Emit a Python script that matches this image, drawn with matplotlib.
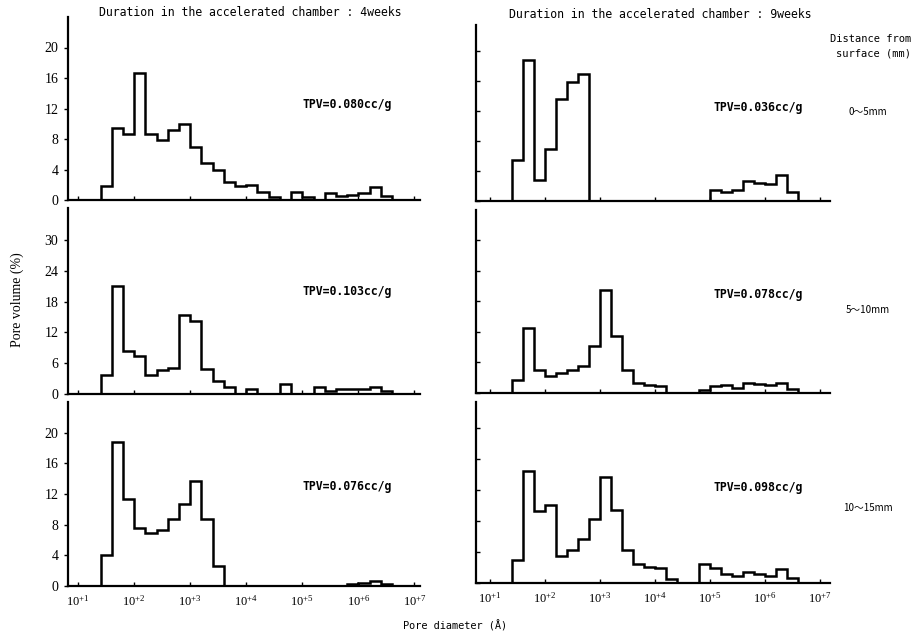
import numpy as np
import matplotlib
matplotlib.use("Agg")
import matplotlib.pyplot as plt

# Bin edges (log10 of pore diameter, Å): 0.2-decade bins from 10^1.4 to 10^6.6
edge_logs = [1.4, 1.6, 1.8, 2.0, 2.2, 2.4, 2.6, 2.8, 3.0, 3.2, 3.4, 3.6, 3.8,
             4.0, 4.2, 4.4, 4.6, 4.8, 5.0, 5.2, 5.4, 5.6, 5.8, 6.0, 6.2, 6.4, 6.6]

# Pore volume (%) per bin
w4_0_5 = [1.8, 9.5, 8.7, 16.7, 8.7, 7.9, 9.2, 10.0, 7.0, 4.8, 4.0, 2.4, 1.8,
          2.0, 1.05, 0.35, 0.0, 1.0, 0.35, 0.0, 0.9, 0.5, 0.7, 0.9, 1.7, 0.5]
w4_5_10 = [3.7, 21.0, 8.4, 7.4, 3.7, 4.7, 5.1, 15.3, 14.3, 4.8, 2.5, 1.3, 0.0,
           1.0, 0.0, 0.0, 1.9, 0.0, 0.0, 1.4, 0.65, 1.0, 1.0, 1.0, 1.3, 0.6]
w4_10_15 = [4.0, 18.8, 11.4, 7.6, 6.9, 7.3, 8.7, 10.7, 13.7, 8.7, 2.6, 0.0, 0.0,
            0.0, 0.0, 0.0, 0.0, 0.0, 0.0, 0.0, 0.0, 0.0, 0.2, 0.4, 0.6, 0.2]
w9_0_5 = [5.5, 18.8, 2.8, 6.9, 13.6, 15.8, 16.9, 0.0, 0.0, 0.0, 0.0, 0.0, 0.0,
          0.0, 0.0, 0.0, 0.0, 0.0, 1.5, 1.2, 1.4, 2.65, 2.4, 2.25, 3.4, 1.15]
w9_5_10 = [2.6, 12.8, 4.6, 3.3, 3.9, 4.6, 5.3, 9.2, 20.3, 11.1, 4.6, 2.0, 1.6,
           1.4, 0.0, 0.0, 0.0, 0.65, 1.4, 1.6, 1.0, 2.0, 1.8, 1.5, 2.0, 0.85]
w9_10_15 = [3.0, 14.4, 9.3, 10.1, 3.5, 4.3, 5.7, 8.2, 13.7, 9.4, 4.2, 2.4, 2.0,
            1.9, 0.5, 0.0, 0.0, 2.4, 1.9, 1.1, 0.9, 1.4, 1.2, 0.9, 1.8, 0.7]

tpv_4w = ["TPV=0.080cc/g", "TPV=0.103cc/g", "TPV=0.076cc/g"]
tpv_9w = ["TPV=0.036cc/g", "TPV=0.078cc/g", "TPV=0.098cc/g"]
distances = ["0～5mm", "5～10mm", "10～15mm"]
yticks_rows = [[0, 4, 8, 12, 16, 20], [0, 6, 12, 18, 24, 30], [0, 4, 8, 12, 16, 20]]
xtick_exps = [1, 2, 3, 4, 5, 6, 7]

W, H = 913, 637
fig = plt.figure(figsize=(W / 100, H / 100), dpi=100)

def rect(x0, x1, top, bot):
    return [x0 / W, 1 - bot / H, (x1 - x0) / W, (bot - top) / H]

left_rects = [rect(68, 420, 17, 200), rect(68, 420, 208, 394), rect(68, 420, 402, 586)]
right_rects = [rect(476, 830, 25, 201), rect(476, 830, 210, 393), rect(476, 830, 402, 583)]
left_ylims = [24, 36.2, 24]
right_ylims = [23.4, 35.9, 23.3]

edges = 10.0 ** np.array(edge_logs)
left_data = [w4_0_5, w4_5_10, w4_10_15]
right_data = [w9_0_5, w9_5_10, w9_10_15]

mono = "DejaVu Sans Mono"
serif = "Liberation Serif"

def style(ax, row, ylim, xl, labels_y):
    ax.set_xscale("log")
    ax.set_xlim(xl)
    ax.set_ylim(0, ylim)
    for s in ["top", "right"]:
        ax.spines[s].set_visible(False)
    ax.spines["left"].set_linewidth(1.6)
    ax.spines["bottom"].set_linewidth(1.6)
    ax.set_yticks(yticks_rows[row])
    if labels_y:
        ax.set_yticklabels([str(v) for v in yticks_rows[row]], fontfamily=serif, fontsize=10)
        ax.tick_params(axis="y", direction="out", length=3, width=1, pad=4)
    else:
        ax.set_yticklabels([])
        ax.tick_params(axis="y", direction="in", length=3, width=1)
    ax.set_xticks([10.0 ** e for e in xtick_exps])
    ax.minorticks_off()
    if row == 2:
        ax.set_xticklabels([r"$\mathregular{10^{+%d}}$" % e for e in xtick_exps],
                           fontfamily=serif, fontsize=9)
    else:
        ax.set_xticklabels([])
    ax.tick_params(axis="x", direction="in", length=3, width=1, pad=6)

for row in range(3):
    ax = fig.add_axes(left_rects[row])
    ax.stairs(left_data[row], edges, color="black", linewidth=1.8, baseline=0)
    style(ax, row, left_ylims[row], (10 ** 0.82, 10 ** 7.1), True)
    ax.text(0.665, [0.52, 0.55, 0.54][row], tpv_4w[row], transform=ax.transAxes,
            fontfamily=mono, fontweight="bold", fontsize=8.3, ha="left", va="center")

    ax = fig.add_axes(right_rects[row])
    ax.stairs(right_data[row], edges, color="black", linewidth=1.8, baseline=0)
    style(ax, row, right_ylims[row], (10 ** 0.75, 10 ** 7.18), False)
    ax.text(0.67, [0.53, 0.54, 0.53][row], tpv_9w[row], transform=ax.transAxes,
            fontfamily=mono, fontweight="bold", fontsize=8.3, ha="left", va="center")

fig.text(250 / W, 1 - 13 / H, "Duration in the accelerated chamber : 4weeks",
         fontfamily=mono, fontsize=8.3, ha="center", va="center")
fig.text(660 / W, 1 - 14 / H, "Duration in the accelerated chamber : 9weeks",
         fontfamily=mono, fontsize=8.3, ha="center", va="center")
fig.text(911 / W, 1 - 46 / H, "Distance from\nsurface (mm)", fontfamily=mono,
         fontsize=7.5, ha="right", va="center", linespacing=1.5)
for txt, yy in zip(distances, [112, 310, 508]):
    fig.text(868 / W, 1 - yy / H, txt, fontfamily=["Noto Sans CJK JP", "DejaVu Sans"],
             fontsize=7, ha="center", va="center")
fig.text(17 / W, 1 - 300 / H, "Pore volume (%)", fontfamily=serif, fontsize=10,
         rotation=90, ha="center", va="center")
fig.text(455 / W, 1 - 626 / H, "Pore diameter (Å)", fontfamily=mono, fontsize=7.4,
         ha="center", va="center")

fig.savefig("out.png", dpi=100)
